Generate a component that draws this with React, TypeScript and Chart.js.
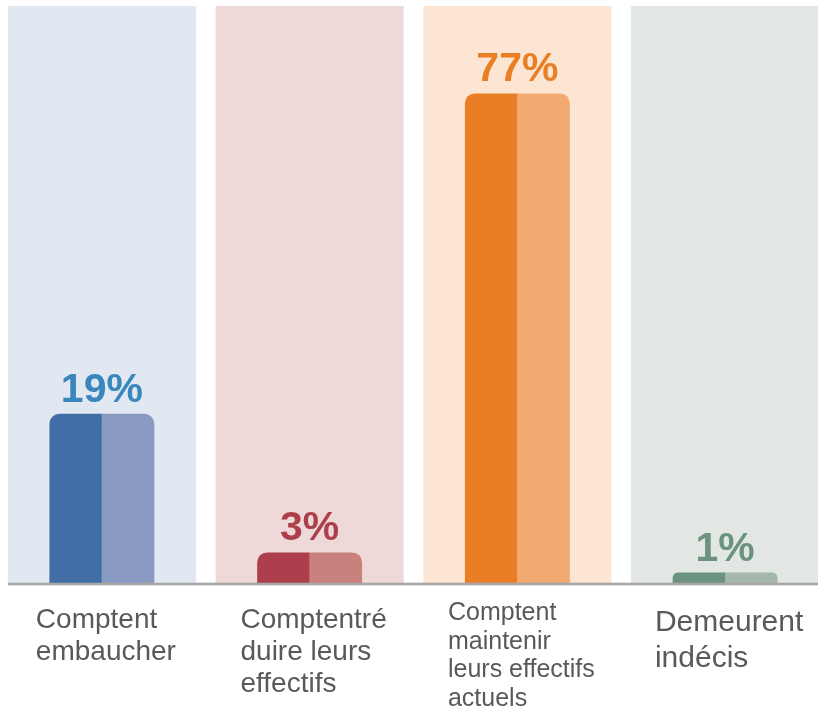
import React, { useEffect, useRef } from "react";
import { Chart, registerables, LinearScale } from "chart.js";

// ---- data ----
const categories: string[][] = [
  ["Comptent", "embaucher"],
  ["Comptentré", "duire leurs", "effectifs"],
  ["Comptent", "maintenir", "leurs effectifs", "actuels"],
  ["Demeurent", "indécis"],
];
const values = [19, 3, 77, 1];
const valueLabels = ["19%", "3%", "77%", "1%"];
const panelValues = [100, 100, 100, 100];

// ---- styles ----
const panelColors = ["#e1e8f1", "#eed9d8", "#fce6d3", "#e2e7e3"];
const darkColors = ["#416ea6", "#ac3f4b", "#ea7e24", "#6c9281"];
const lightColors = ["#8a9bc3", "#c8817d", "#f2aa71", "#a3b8ab"];
const valueColors = ["#3a87be", "#ac3f4b", "#ea7e24", "#6c9281"];
const labelFontSizes = [28, 28, 25, 30];
const labelLineHeights = [32, 32, 28.5, 36];
const labelFirstBaselineOffsets = [45, 45, 37, 48];
const FONT = '"Liberation Sans", Arial, Helvetica, sans-serif';

// A value axis whose spacing follows log(value + shift)
class ShiftedLogScale extends LinearScale {
  static id = "shiftedLog";
  static defaults = { shift: 50 };
  getPixelForValue(value: number) {
    const s = (this.options as any).shift ?? 50;
    const lo = Math.log(this.min + s);
    const hi = Math.log(this.max + s);
    return this.getPixelForDecimal((Math.log(value + s) - lo) / (hi - lo));
  }
  getValueForPixel(pixel: number) {
    const s = (this.options as any).shift ?? 50;
    const lo = Math.log(this.min + s);
    const hi = Math.log(this.max + s);
    const t = this.getDecimalForPixel(pixel);
    return Math.exp(lo + t * (hi - lo)) - s;
  }
}

Chart.register(...registerables, ShiftedLogScale as any);

const overlayPlugin = {
  id: "overlay",
  afterDatasetsDraw(chart: any) {
    const ctx = chart.ctx;
    const xs = chart.scales.x;
    const ys = chart.scales.y;
    const area = chart.chartArea;
    const panelMeta = chart.getDatasetMeta(0);
    const barMeta = chart.getDatasetMeta(1);
    const zero = ys.getPixelForValue(0);
    ctx.save();
    // baseline
    const p0 = panelMeta.data[0];
    const left = p0.x - p0.width / 2;
    ctx.fillStyle = "#a7a7a7";
    ctx.fillRect(left, zero - 0.3, area.right - left + 20, 2.6);

    // value labels
    ctx.textAlign = "center";
    ctx.textBaseline = "alphabetic";
    ctx.font = `bold 41px ${FONT}`;
    values.forEach((v, i) => {
      const cx = xs.getPixelForValue(i);
      const top = barMeta.data[i].y;
      ctx.fillStyle = valueColors[i];
      ctx.fillText(valueLabels[i], cx, top - 12);
    });

    // category labels (left-aligned block, centered under category)
    ctx.textAlign = "left";
    ctx.fillStyle = "#58595b";
    categories.forEach((lines, i) => {
      const cx = xs.getPixelForValue(i);
      ctx.font = `${labelFontSizes[i]}px ${FONT}`;
      const maxW = Math.max(...lines.map((l) => ctx.measureText(l).width));
      const x = cx - maxW / 2 + 4;
      lines.forEach((l, j) => {
        ctx.fillText(l, x, zero + labelFirstBaselineOffsets[i] + j * labelLineHeights[i]);
      });
    });
    ctx.restore();
  },
};

export default function App() {
  const ref = useRef<HTMLCanvasElement | null>(null);
  useEffect(() => {
    if (!ref.current) return;
    const chart = new Chart(ref.current, {
      type: "bar",
      data: {
        labels: categories.map((c) => c.join(" ")),
        datasets: [
          {
            data: panelValues,
            backgroundColor: panelColors,
            grouped: false,
            categoryPercentage: 1,
            barPercentage: 0.905,
            order: 2,
            borderWidth: 0,
          } as any,
          {
            data: values,
            backgroundColor: darkColors,
            categoryPercentage: 0.505,
            barPercentage: 1,
            borderRadius: { topLeft: 10, topRight: 0, bottomLeft: 0, bottomRight: 0 },
            borderSkipped: "start",
            order: 1,
            borderWidth: 0,
          },
          {
            data: values,
            backgroundColor: lightColors,
            categoryPercentage: 0.505,
            barPercentage: 1,
            borderRadius: { topLeft: 0, topRight: 10, bottomLeft: 0, bottomRight: 0 },
            borderSkipped: "start",
            order: 1,
            borderWidth: 0,
          },
        ],
      },
      options: {
        animation: false,
        responsive: false,
        events: [],
        layout: { padding: { top: 6, bottom: 126, left: 0, right: 0 } },
        plugins: { legend: { display: false }, tooltip: { enabled: false } },
        scales: {
          x: { display: false },
          y: { type: "shiftedLog" as any, min: 0, max: 100, display: false },
        },
      },
      plugins: [overlayPlugin],
    });
    return () => chart.destroy();
  }, []);
  return (
    <div style={{ position: "absolute", left: 0, top: 0, width: 818, height: 709, overflow: "hidden", background: "#fff" }}>
      <canvas ref={ref} width={831} height={709} style={{ position: "absolute", left: -2, top: 0, width: 831, height: 709 }} />
    </div>
  );
}
